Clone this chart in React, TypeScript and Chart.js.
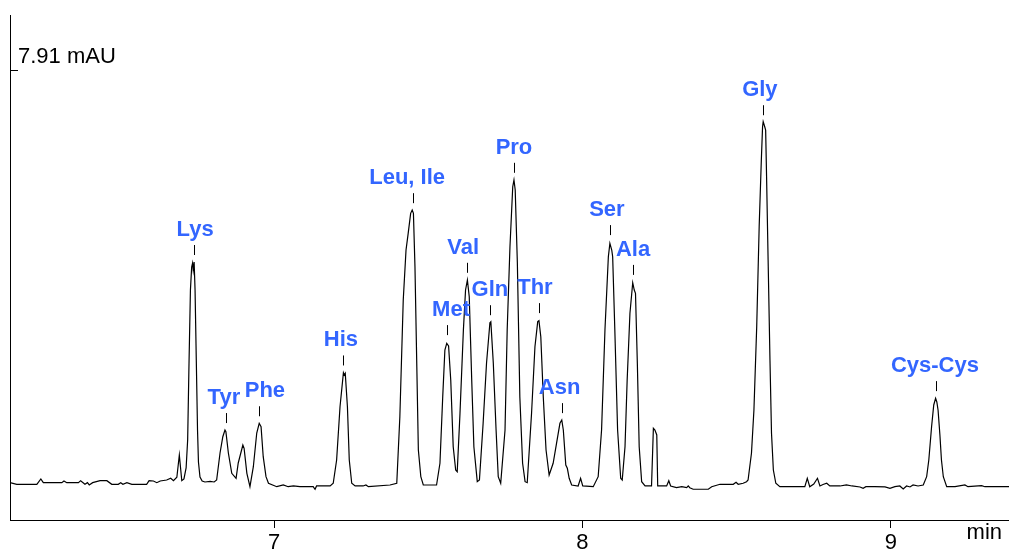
import React, { useEffect, useRef } from "react";
import { Chart, registerables } from "chart.js";

Chart.register(...registerables);

// Retention time (min) of each trace point
const timeMin: number[] = [
  6.144, 6.166, 6.231, 6.244, 6.252, 6.312, 6.319, 6.328, 6.366, 6.373,
  6.387, 6.395, 6.401, 6.412, 6.436, 6.458, 6.474, 6.495, 6.503, 6.510,
  6.523, 6.539, 6.587, 6.595, 6.609, 6.620, 6.631, 6.652, 6.665, 6.674,
  6.685, 6.693, 6.701,
  6.708, 6.715, 6.720, 6.724, 6.729, 6.733, 6.736, 6.738, 6.741, 6.744,
  6.748, 6.752, 6.755, 6.760, 6.767, 6.776, 6.793, 6.806,
  6.814, 6.825, 6.834, 6.841, 6.844, 6.852, 6.863, 6.877,
  6.884, 6.899, 6.903, 6.912, 6.922,
  6.933, 6.944, 6.952, 6.958, 6.965, 6.974, 6.982, 7.009,
  7.030, 7.046, 7.063, 7.084, 7.127, 7.133, 7.138, 7.182,
  7.192, 7.203, 7.214, 7.225, 7.228, 7.231, 7.238, 7.244, 7.252, 7.263,
  7.289, 7.298, 7.306, 7.376,
  7.398, 7.408, 7.419, 7.428, 7.435, 7.443, 7.448, 7.452, 7.457, 7.463,
  7.468, 7.476, 7.484, 7.527,
  7.538, 7.547, 7.554, 7.560, 7.566, 7.573, 7.581, 7.589, 7.594,
  7.603, 7.614, 7.621, 7.627, 7.633, 7.641, 7.648, 7.659, 7.666,
  7.678, 7.689, 7.700, 7.703, 7.711, 7.720, 7.727, 7.735,
  7.749, 7.756, 7.765, 7.774, 7.778, 7.782, 7.789, 7.797, 7.806, 7.814, 7.821,
  7.835, 7.846, 7.855, 7.859, 7.865, 7.873, 7.882, 7.892,
  7.905, 7.916, 7.927, 7.933, 7.938, 7.946, 7.951, 7.957, 7.965, 7.986,
  7.994, 8.001, 8.035,
  8.051, 8.062, 8.073, 8.084, 8.089, 8.095, 8.098, 8.105, 8.114, 8.124, 8.129,
  8.138, 8.145, 8.154, 8.163, 8.168, 8.172, 8.178, 8.184, 8.192, 8.203, 8.224,
  8.230, 8.235, 8.241, 8.244,
  8.273, 8.280, 8.286, 8.305, 8.322, 8.338, 8.343, 8.348, 8.359, 8.408,
  8.419, 8.446, 8.489, 8.498, 8.505, 8.521, 8.532,
  8.537, 8.548, 8.556, 8.565, 8.573, 8.580, 8.584, 8.586, 8.591, 8.594,
  8.597, 8.602, 8.608, 8.613, 8.619, 8.627, 8.640,
  8.721, 8.729, 8.737, 8.750, 8.762, 8.770, 8.780, 8.792, 8.802, 8.835,
  8.856, 8.874, 8.900, 8.910, 8.919, 8.948, 8.981, 8.997, 9.013, 9.029,
  9.040, 9.051, 9.062, 9.072, 9.088, 9.105,
  9.116, 9.123, 9.132, 9.139, 9.145, 9.149, 9.153, 9.159, 9.164, 9.170,
  9.181, 9.208, 9.240, 9.250, 9.294, 9.305, 9.383,
];

// Detector signal (mAU) of each trace point
const signalMAU: number[] = [
  0.025, -0.006, -0.006, 0.096, 0.025, 0.025, 0.057, 0.025, 0.025, 0.063,
  -0.006, 0.025, -0.019, 0.025, 0.063, 0.063, -0.006, -0.006, 0.025, -0.006,
  0.025, -0.006, -0.006, 0.063, 0.057, 0.025, 0.057, 0.076, 0.109, 0.063,
  0.128, 0.554, 0.063,
  0.096, 0.306, 0.840, 2.177, 3.705, 4.145, 4.221, 4.087, 4.240, 3.705,
  2.368, 1.031, 0.420, 0.134, 0.057, 0.038, 0.048, 0.038,
  0.076, 0.592, 0.903, 1.031, 0.999, 0.592, 0.204, 0.109,
  0.401, 0.745, 0.682, 0.204, -0.052,
  0.330, 0.974, 1.159, 1.094, 0.521, 0.139, 0.013, -0.052,
  -0.019, -0.052, -0.038, -0.052, -0.052, -0.101, -0.038, -0.038,
  0.013, 0.458, 1.476, 2.126, 2.082, 2.114, 1.476, 0.458, 0.013, -0.038,
  -0.038, -0.019, -0.052, -0.019,
  0.013, 1.285, 3.514, 4.469, 4.788, 5.170, 5.233, 5.170, 4.150, 2.240,
  0.649, 0.139, -0.019, -0.019,
  0.395, 1.667, 2.559, 2.687, 2.636, 1.986, 0.712, 0.267, 0.235,
  1.350, 2.941, 3.705, 3.896, 3.577, 1.986, 0.712, 0.044, 0.076,
  1.159, 2.305, 3.081, 3.100, 2.305, 1.031, 0.139, 0.013,
  1.031, 2.941, 4.532, 5.678, 5.806, 5.615, 4.215, 1.667, 0.395, 0.044, 0.025,
  1.350, 2.622, 3.100, 3.119, 2.813, 1.667, 0.649, 0.172,
  0.395, 0.777, 1.159, 1.222, 1.031, 0.363, 0.300, 0.109, -0.019, -0.038,
  0.109, -0.038, -0.052,
  0.139, 1.031, 2.941, 4.341, 4.597, 4.469, 4.341, 2.941, 1.031, 0.109, 0.076,
  0.712, 1.986, 3.260, 3.845, 3.705, 3.642, 2.305, 0.712, 0.044, -0.038, -0.038,
  1.064, 1.031, 0.936, -0.038,
  -0.038, 0.063, -0.038, -0.071, -0.052, -0.071, -0.038, -0.071, -0.101, -0.101,
  -0.052, -0.006, -0.006, 0.032, -0.006, 0.013, 0.044,
  0.076, 0.586, 1.413, 3.004, 4.914, 6.188, 6.824, 6.920, 6.824, 6.761,
  5.869, 4.278, 2.368, 0.968, 0.267, 0.013, -0.052,
  -0.052, 0.109, -0.052, 0.000, 0.109, -0.038, -0.010, 0.013, -0.038, -0.038,
  -0.019, -0.038, -0.057, -0.082, -0.052, -0.052, -0.057, -0.082, -0.052, -0.038,
  -0.096, -0.038, -0.057, -0.019, -0.038, -0.019,
  0.139, 0.458, 1.094, 1.509, 1.637, 1.566, 1.413, 0.936, 0.458, 0.139,
  -0.052, -0.052, -0.019, -0.052, -0.032, -0.052, -0.052,
];

// Peak identifications: name, apex time (min), apex height (mAU)
const peakNames: string[] = [
  "Lys", "Tyr", "Phe", "His", "Leu, Ile", "Met", "Val", "Gln",
  "Pro", "Thr", "Asn", "Ser", "Ala", "Gly", "Cys-Cys",
];
const peakTimes: number[] = [
  6.741, 6.844, 6.951, 7.225, 7.451, 7.561, 7.626, 7.700,
  7.778, 7.859, 7.934, 8.089, 8.164, 8.585, 9.146,
];
const peakHeights: number[] = [
  4.24, 1.03, 1.16, 2.13, 5.23, 2.71, 3.90, 3.09,
  5.81, 3.13, 1.22, 4.62, 3.86, 6.91, 1.64,
];

const xTicks: number[] = [7, 8, 9];
const xRange: number[] = [6.144, 9.383];
const yRange: number[] = [-0.688, 8.958];
const yMarkValue = 7.91;
const yMarkLabel = "7.91 mAU";
const xUnitLabel = "min";

// label horizontal nudges in pixels (layout only)
const LABEL_DX = [1, -2, 6, -2.5, -6, 4, -4, 0, 0, -4, -2.5, -3, 0, -3, -1];

const FONT_FAMILY = '"Liberation Sans", Arial, Helvetica, sans-serif';
const LABEL_BLUE = "#3366FF";

const overlayPlugin = {
  id: "chromOverlay",
  afterDraw(chart: any) {
    const { ctx, chartArea, scales } = chart;
    const xs = scales.x;
    const ys = scales.y;
    ctx.save();
    ctx.strokeStyle = "#000";
    ctx.lineWidth = 1;

    // y marker tick (inside) and its label
    const ym = Math.round(ys.getPixelForValue(yMarkValue)) + 0.5;
    ctx.beginPath();
    ctx.moveTo(chartArea.left, ym);
    ctx.lineTo(chartArea.left + 8, ym);
    ctx.stroke();
    ctx.font = `22px ${FONT_FAMILY}`;
    ctx.fillStyle = "#000";
    ctx.textAlign = "left";
    ctx.textBaseline = "alphabetic";
    ctx.fillText(yMarkLabel, chartArea.left + 8, ym - 8);

    // x unit label
    ctx.textAlign = "right";
    ctx.fillText(xUnitLabel, chartArea.right - 7, chartArea.bottom + 19);

    // peak labels
    ctx.font = `bold 22px ${FONT_FAMILY}`;
    ctx.fillStyle = LABEL_BLUE;
    ctx.textAlign = "center";
    peakNames.forEach((name, i) => {
      const px = xs.getPixelForValue(peakTimes[i]);
      const py = ys.getPixelForValue(peakHeights[i]);
      const lx = Math.round(px) + 0.5;
      ctx.beginPath();
      ctx.moveTo(lx, py - 17);
      ctx.lineTo(lx, py - 7);
      ctx.stroke();
      ctx.fillText(name, px + LABEL_DX[i], py - 26);
    });
    ctx.restore();
  },
};

export default function App() {
  const canvasRef = useRef<HTMLCanvasElement | null>(null);

  useEffect(() => {
    if (!canvasRef.current) return;
    const points = timeMin.map((t, i) => ({ x: t, y: signalMAU[i] }));
    const chart = new Chart(canvasRef.current, {
      type: "line",
      data: {
        datasets: [
          {
            data: points,
            borderColor: "#000",
            borderWidth: 1.2,
            pointRadius: 0,
            tension: 0,
            fill: false,
          },
        ],
      },
      options: {
        animation: false,
        responsive: false,
        maintainAspectRatio: false,
        devicePixelRatio: 1,
        layout: { padding: { left: 0, right: 0, top: 15, bottom: 0 } },
        plugins: {
          legend: { display: false },
          tooltip: { enabled: false },
          title: { display: false },
        },
        scales: {
          x: {
            type: "linear",
            min: xRange[0],
            max: xRange[1],
            afterBuildTicks: (scale: any) => {
              scale.ticks = xTicks.map((v) => ({ value: v }));
            },
            afterFit: (scale: any) => {
              scale.height = 29;
            },
            grid: {
              display: true,
              drawOnChartArea: false,
              drawTicks: true,
              tickLength: 8,
              color: "#000",
              lineWidth: 1,
            },
            border: { display: true, color: "#000", width: 1 },
            ticks: {
              color: "#000",
              font: { family: FONT_FAMILY, size: 22 },
              padding: 2,
              maxRotation: 0,
              autoSkip: false,
              callback: (v: any) => String(v),
            },
          },
          y: {
            type: "linear",
            min: yRange[0],
            max: yRange[1],
            afterFit: (scale: any) => {
              scale.width = 10;
            },
            grid: { display: true, drawOnChartArea: false, drawTicks: false },
            border: { display: true, color: "#000", width: 1 },
            ticks: { display: false },
          },
        },
      },
      plugins: [overlayPlugin],
    });
    return () => chart.destroy();
  }, []);

  return (
    <div
      style={{
        position: "fixed",
        left: 0,
        top: 0,
        width: 1009,
        height: 549,
        background: "#fff",
        overflow: "hidden",
      }}
    >
      <canvas ref={canvasRef} width={1009} height={549} style={{ width: 1009, height: 549, display: "block" }} />
    </div>
  );
}
